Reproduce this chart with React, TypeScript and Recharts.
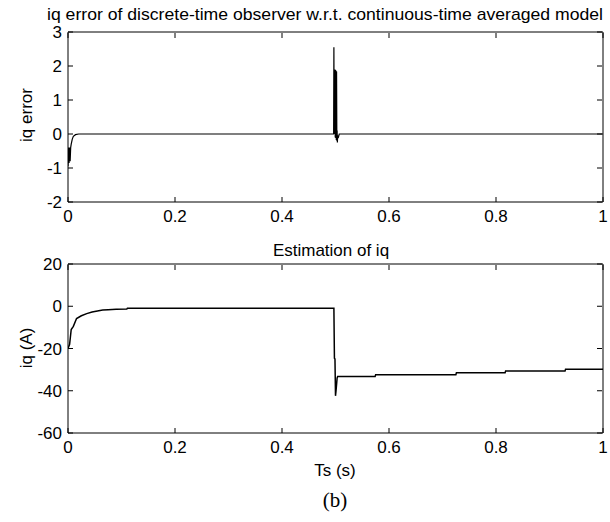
import React from "react";
import { LineChart, Line, XAxis, YAxis } from "recharts";

const xTicks = [0, 0.2, 0.4, 0.6, 0.8, 1];
const errTicks = [-2, -1, 0, 1, 2, 3];
const iqTicks = [-60, -40, -20, 0, 20];

const errTime = [0, 0.001, 0.002, 0.003, 0.004, 0.005, 0.006, 0.008, 0.01, 0.014, 0.02, 0.4965, 0.497, 0.4975, 0.499, 0.4995, 0.5, 0.5005, 0.501, 0.5015, 0.502, 0.5025, 0.503, 0.5035, 0.504, 0.505, 0.507, 1.0];
const errValue = [-0.95, -0.4, -0.85, -0.4, -0.8, -0.4, -0.3, -0.15, -0.07, -0.02, 0, 0, 2.55, 0, 1.9, -0.1, 1.88, -0.12, 1.86, -0.18, 1.84, -0.2, 0.1, -0.25, -0.05, -0.12, 0, 0];

const iqTime = [0, 0.003, 0.006, 0.01, 0.016, 0.025, 0.035, 0.045, 0.055, 0.065, 0.075, 0.09, 0.11, 0.111, 0.3, 0.497, 0.498, 0.499, 0.5, 0.501, 0.503, 0.504, 0.574, 0.575, 0.725, 0.726, 0.817, 0.818, 0.929, 0.93, 1.0];
const iqValue = [-20, -18, -11, -9.5, -5.8, -4.5, -3.5, -2.7, -2.2, -1.8, -1.6, -1.4, -1.3, -1.0, -1.0, -1.0, -24.6, -25, -42.4, -40, -34, -33.3, -33.3, -32.4, -32.4, -31.5, -31.5, -30.7, -30.7, -29.8, -29.8];

const errData = errTime.map((t, i) => ({ t, v: errValue[i] }));
const iqData = iqTime.map((t, i) => ({ t, v: iqValue[i] }));

const FONT = "'Liberation Sans', Arial, sans-serif";
const FS = 17;
const TICK_LEN = 5;

const BottomTick = (props: any) => {
  const { x, y, payload } = props;
  return (
    <g>
      <line x1={x} y1={y} x2={x} y2={y - TICK_LEN} stroke="#000" strokeWidth={1} />
      <text x={x} y={y + 20} textAnchor="middle" fontSize={FS} fontFamily={FONT} fill="#000">
        {String(payload.value)}
      </text>
    </g>
  );
};
const TopTick = (props: any) => {
  const { x, y } = props;
  return <line x1={x} y1={y + 1} x2={x} y2={y + 1 + TICK_LEN} stroke="#000" strokeWidth={1} />;
};
const LeftTick = (props: any) => {
  const { x, y, payload } = props;
  return (
    <g>
      <line x1={x} y1={y} x2={x + TICK_LEN} y2={y} stroke="#000" strokeWidth={1} />
      <text x={x - 6} y={y} dy="0.36em" textAnchor="end" fontSize={FS} fontFamily={FONT} fill="#000">
        {String(payload.value)}
      </text>
    </g>
  );
};
const RightTick = (props: any) => {
  const { x, y } = props;
  return <line x1={x - 1} y1={y} x2={x - 1 - TICK_LEN} y2={y} stroke="#000" strokeWidth={1} />;
};

function Panel({ data, domain, ticks, top, bottom, sw }: any) {
  return (
    <div style={{ position: "absolute", left: 0, top: 0 }}>
      <LineChart width={610} height={522} data={data} margin={{ top: top - 1, right: 6, left: 0, bottom }}>
        <XAxis xAxisId="b" dataKey="t" type="number" domain={[0, 1]} ticks={xTicks} allowDataOverflow
          axisLine={{ stroke: "#000" }} tickLine={false} tickSize={0} tickMargin={0} height={30} tick={<BottomTick />} interval={0} />
        <XAxis xAxisId="t" orientation="top" dataKey="t" type="number" domain={[0, 1]} ticks={xTicks} allowDataOverflow
          axisLine={{ stroke: "#000" }} tickLine={false} tickSize={0} tickMargin={0} height={1} tick={<TopTick />} interval={0} />
        <YAxis yAxisId="l" type="number" domain={domain} ticks={ticks} allowDataOverflow
          axisLine={{ stroke: "#000" }} tickLine={false} tickSize={0} tickMargin={0} width={68} tick={<LeftTick />} interval={0} />
        <YAxis yAxisId="r" orientation="right" type="number" domain={domain} ticks={ticks} allowDataOverflow
          axisLine={{ stroke: "#000" }} tickLine={false} tickSize={0} tickMargin={0} width={1} tick={<RightTick />} interval={0} />
        <Line xAxisId="b" yAxisId="l" dataKey="v" type="linear" stroke="#000" strokeWidth={sw} dot={false} isAnimationActive={false} />
        <Line xAxisId="t" yAxisId="r" dataKey="v" type="linear" stroke="none" strokeWidth={0} dot={false} isAnimationActive={false} legendType="none" />
      </LineChart>
    </div>
  );
}

export default function App() {
  return (
    <div style={{ position: "absolute", left: 0, top: 0, width: 610, height: 522, background: "#fff", overflow: "hidden" }}>
      <Panel data={errData} domain={[-2, 3]} ticks={errTicks} top={32} bottom={290} sw={1.2} />
      <Panel data={iqData} domain={[-60, 20]} ticks={iqTicks} top={264} bottom={59} sw={1.5} />
      <svg width={610} height={522} style={{ position: "absolute", left: 0, top: 0 }}>
        <text x={325} y={20} textAnchor="middle" fontSize={FS} fontFamily={FONT} fill="#000" textLength={556} lengthAdjust="spacingAndGlyphs">
          iq error of discrete-time observer w.r.t. continuous-time averaged model
        </text>
        <text x={331} y={256} textAnchor="middle" fontSize={FS} fontFamily={FONT} fill="#000">
          Estimation of iq
        </text>
        <text x={335} y={476} textAnchor="middle" fontSize={FS} fontFamily={FONT} fill="#000">
          Ts (s)
        </text>
        <text x={26} y={115} textAnchor="middle" fontSize={FS} fontFamily={FONT} fill="#000" transform="rotate(-90 26 115)" dy="0.35em">
          iq error
        </text>
        <text x={26} y={348} textAnchor="middle" fontSize={FS} fontFamily={FONT} fill="#000" transform="rotate(-90 26 348)" dy="0.35em">
          iq (A)
        </text>
        <text x={335} y={507} textAnchor="middle" fontSize={21} fontFamily="'Liberation Serif', 'Times New Roman', serif" fill="#000">
          (b)
        </text>
      </svg>
    </div>
  );
}
